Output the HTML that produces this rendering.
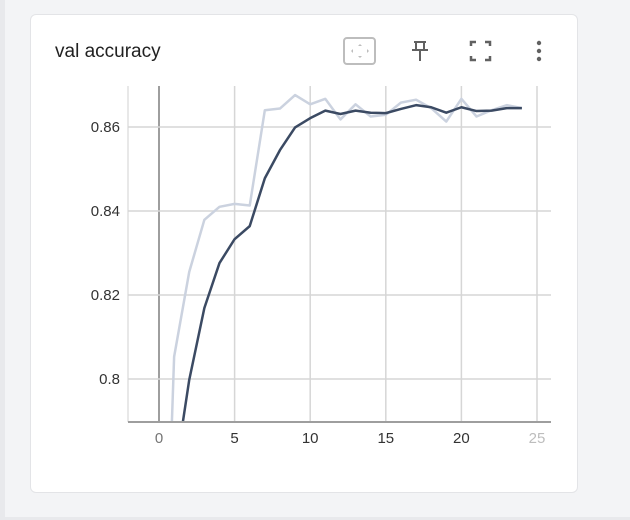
<!DOCTYPE html>
<html><head><meta charset="utf-8"><style>
html,body{margin:0;padding:0;width:630px;height:520px;overflow:hidden;background:#f3f4f6;font-family:"Liberation Sans",sans-serif;position:relative;}
#strip{position:absolute;left:0;top:0;width:5px;height:517px;background:#e8e9ec;}
#bot{position:absolute;left:0;top:517px;width:630px;height:3px;background:#e8e9ec;}
#card{position:absolute;left:30px;top:14px;width:546px;height:477px;background:#fff;border:1px solid #e3e4e7;border-radius:6px;box-sizing:content-box;}
#title{position:absolute;left:24px;top:26px;font-size:19px;color:#212121;}
svg{position:absolute;left:0;top:0;display:block;}
</style></head><body>
<div id="strip"></div>
<div id="bot"></div>
<div id="card">
<div id="title">val accuracy</div>
</div>
<svg width="630" height="520" id="chart">
<g>
<rect x="344" y="38" width="31" height="26" rx="3" fill="none" stroke="#bdbdbd" stroke-width="2"/>
<path d="M360 44l-2 2h4zM360 58l-2-2h4zM351 51l2-2v4zM369 51l-2-2v4z" fill="#bdbdbd"/>
</g>
<g stroke="#616161" stroke-width="2" fill="none">
<path d="M414 42h12M416 42v8h8v-8M412 50h16M420 50v11"/>
</g>
<g stroke="#616161" stroke-width="2.5" fill="none">
<path d="M471 46v-4h5M485 42h5v4M490 56v4h-5M476 60h-5v-4"/>
</g>
<g fill="#616161">
<circle cx="539" cy="43" r="2.2"/><circle cx="539" cy="51" r="2.2"/><circle cx="539" cy="59" r="2.2"/>
</g>
<defs><clipPath id="pc"><rect x="128" y="86" width="423" height="336"/></clipPath></defs>
<g id="grid"></g>
<g id="series" clip-path="url(#pc)"></g>
<g id="axes"></g>
</svg>
<script>
const steps=[0,1,2,3,4,5,6,7,8,9,10,11,12,13,14,15,16,17,18,19,20,21,22,23,24];
const rawVals=[0.70,0.8053,0.8255,0.8379,0.841,0.8417,0.8413,0.864,0.8644,0.8676,0.8654,0.8667,0.8618,0.8654,0.8625,0.8629,0.8658,0.8665,0.8645,0.8613,0.8667,0.8625,0.864,0.8652,0.8645];
const smoothVals=[0.75,0.776,0.7998,0.8169,0.8276,0.8333,0.8364,0.8478,0.8545,0.8599,0.8621,0.8639,0.8631,0.8639,0.8634,0.8633,0.8643,0.8652,0.8647,0.8634,0.8647,0.8638,0.8639,0.8645,0.8645];
const xTicks=[0,5,10,15,20,25];
const yTicks=[0.8,0.82,0.84,0.86];
const yLabels=["0.8","0.82","0.84","0.86"];
const X=v=>159+v*15.12;
const Y=v=>127+(0.86-v)*4200;
const NS="http://www.w3.org/2000/svg";
function mk(t,a,p){const e=document.createElementNS(NS,t);for(const k in a)e.setAttribute(k,a[k]);p.appendChild(e);return e;}
const grid=document.getElementById('grid'),axes=document.getElementById('axes'),ser=document.getElementById('series');
mk('line',{x1:128,y1:86,x2:128,y2:422,stroke:'#d0d0d0','stroke-width':1},grid);
xTicks.forEach((t,i)=>{
 const l=mk('line',{x1:X(t),y1:86,x2:X(t),y2:422,stroke:t===0?'#9e9e9e':'#d6d6d6','stroke-width':t===0?2:1.5},grid);
 
 
 const tx=mk('text',{x:X(t),y:443,'text-anchor':'middle','font-size':15,fill:t===25?'#bdbdbd':(t===0?'#757575':'#333')},axes);
 tx.textContent=t;
 
 
});
yTicks.forEach((t,i)=>{
 const l=mk('line',{x1:128,y1:Y(t),x2:551,y2:Y(t),stroke:'#d6d6d6','stroke-width':1.5},grid);
 
 
 const tx=mk('text',{x:120,y:Y(t)+5,'text-anchor':'end','font-size':15,fill:'#333'},axes);
 tx.textContent=yLabels[i];
 
 
});
const ax=mk('line',{x1:128,y1:422,x2:551,y2:422,stroke:'#9e9e9e','stroke-width':2},axes);


const pts=a=>steps.map((s,i)=>X(s)+','+Y(a[i])).join(' ');
const r=mk('polyline',{points:pts(rawVals),fill:'none',stroke:'#cbd2df','stroke-width':2.5,'stroke-linejoin':'round'},ser);


const s=mk('polyline',{points:pts(smoothVals),fill:'none',stroke:'#3b4a63','stroke-width':2.5,'stroke-linejoin':'round'},ser);


</script>
</body></html>
